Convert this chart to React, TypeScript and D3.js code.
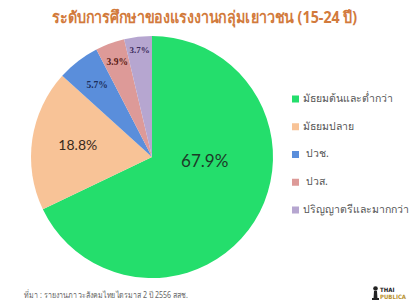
import React from "react";
import * as d3 from "d3";

const categories = ["มัธยมต้นและต่ำกว่า", "มัธยมปลาย", "ปวช.", "ปวส.", "ปริญญาตรีและมากกว่า"];
const values = [67.9, 18.8, 5.7, 3.9, 3.7];
const labels = ["67.9%", "18.8%", "5.7%", "3.9%", "3.7%"];
const colors = ["#24DE6C", "#F8C397", "#5A8EDB", "#DD9A98", "#B6A6D0"];
const labelColors = ["#1d3a28", "#3a2a1c", "#1c2e5c", "#5a1a14", "#3a2a5a"];
const labelRadius = [53, 75, 90, 100, 107];
const labelAngleOverride: (number | null)[] = [96.5, null, null, null, null];
const labelSizes = [17, 14, 9.5, 9.5, 9];

const title = "ระดับการศึกษาของแรงงานกลุ่มเยาวชน (15-24 ปี)";
const source = "ที่มา : รายงานภาวะสังคมไทยไตรมาส 2 ปี 2556 สสช.";

export default function App() {
  const W = 409, H = 307;
  const cx = 152, cy = 157, R = 121;
  const pie = d3.pie<number>().sort(null).value((d) => d)(values);
  const arc = d3.arc<d3.PieArcDatum<number>>().innerRadius(0).outerRadius(R);
  const legendY = d3.scalePoint<number>().domain(d3.range(categories.length)).range([99, 210]);

  return (
    <svg width={W} height={H} style={{ position: "absolute", left: 0, top: 0, background: "#fff" }}>
      <rect width={W} height={H} fill="#fff" />
      <text x={52} y={22.5} fontSize={16.5} fontWeight="bold" fill="#D27A3C"
        textLength={305} lengthAdjust="spacingAndGlyphs"
        fontFamily="'Noto Sans', 'DejaVu Sans', sans-serif">{title}</text>
      <g transform={`translate(${cx},${cy})`}>
        {pie.map((p, i) => (
          <path key={i} d={arc(p) || ""} fill={colors[i]} />
        ))}
        {pie.map((p, i) => {
          const mid = labelAngleOverride[i] != null ? (labelAngleOverride[i] as number) * Math.PI / 180 : (p.startAngle + p.endAngle) / 2;
          const r = labelRadius[i];
          const x = Math.sin(mid) * r, y = -Math.cos(mid) * r;
          const small = labelSizes[i] < 12;
          return (
            <text key={i} x={x} y={y} textAnchor="middle" dominantBaseline="middle"
              fontSize={labelSizes[i]} fontWeight={small ? "bold" : "normal"}
              fontFamily={small ? "'Liberation Serif', serif" : "'Lato', 'DejaVu Sans', sans-serif"}
              fill={labelColors[i]}>{labels[i]}</text>
          );
        })}
      </g>
      {categories.map((c, i) => (
        <g key={i} transform={`translate(292,${legendY(i)})`}>
          <rect x={0} y={-3.5} width={7} height={7} fill={colors[i]} />
          <text x={i === 2 || i === 3 ? 14 : 11} y={0} dominantBaseline="middle" fontSize={10.5} fill="#555"
            fontFamily="'Noto Sans', 'DejaVu Sans', sans-serif">{c}</text>
        </g>
      ))}
      <text x={24} y={297.5} fontSize={8.5} fill="#666" textLength={164} lengthAdjust="spacingAndGlyphs"
        fontFamily="'Noto Sans', 'DejaVu Sans', sans-serif">{source}</text>
      <g transform="translate(373,286)">
        <circle cx={2.5} cy={2.5} r={2.3} fill="#222" />
        <path d="M1,5 L4,5 L4.5,13 L0.5,13 Z" fill="#222" />
        <rect x={-1} y={12} width={7} height={2} fill="#222" />
        <text x={7} y={5.5} fontSize={6} fontWeight="bold" fill="#222" fontFamily="'DejaVu Sans Condensed', sans-serif">THAI</text>
        <text x={7} y={13} fontSize={6} fontWeight="bold" fill="#B8922E" fontFamily="'DejaVu Sans Condensed', sans-serif">PUBLICA</text>
      </g>
    </svg>
  );
}
